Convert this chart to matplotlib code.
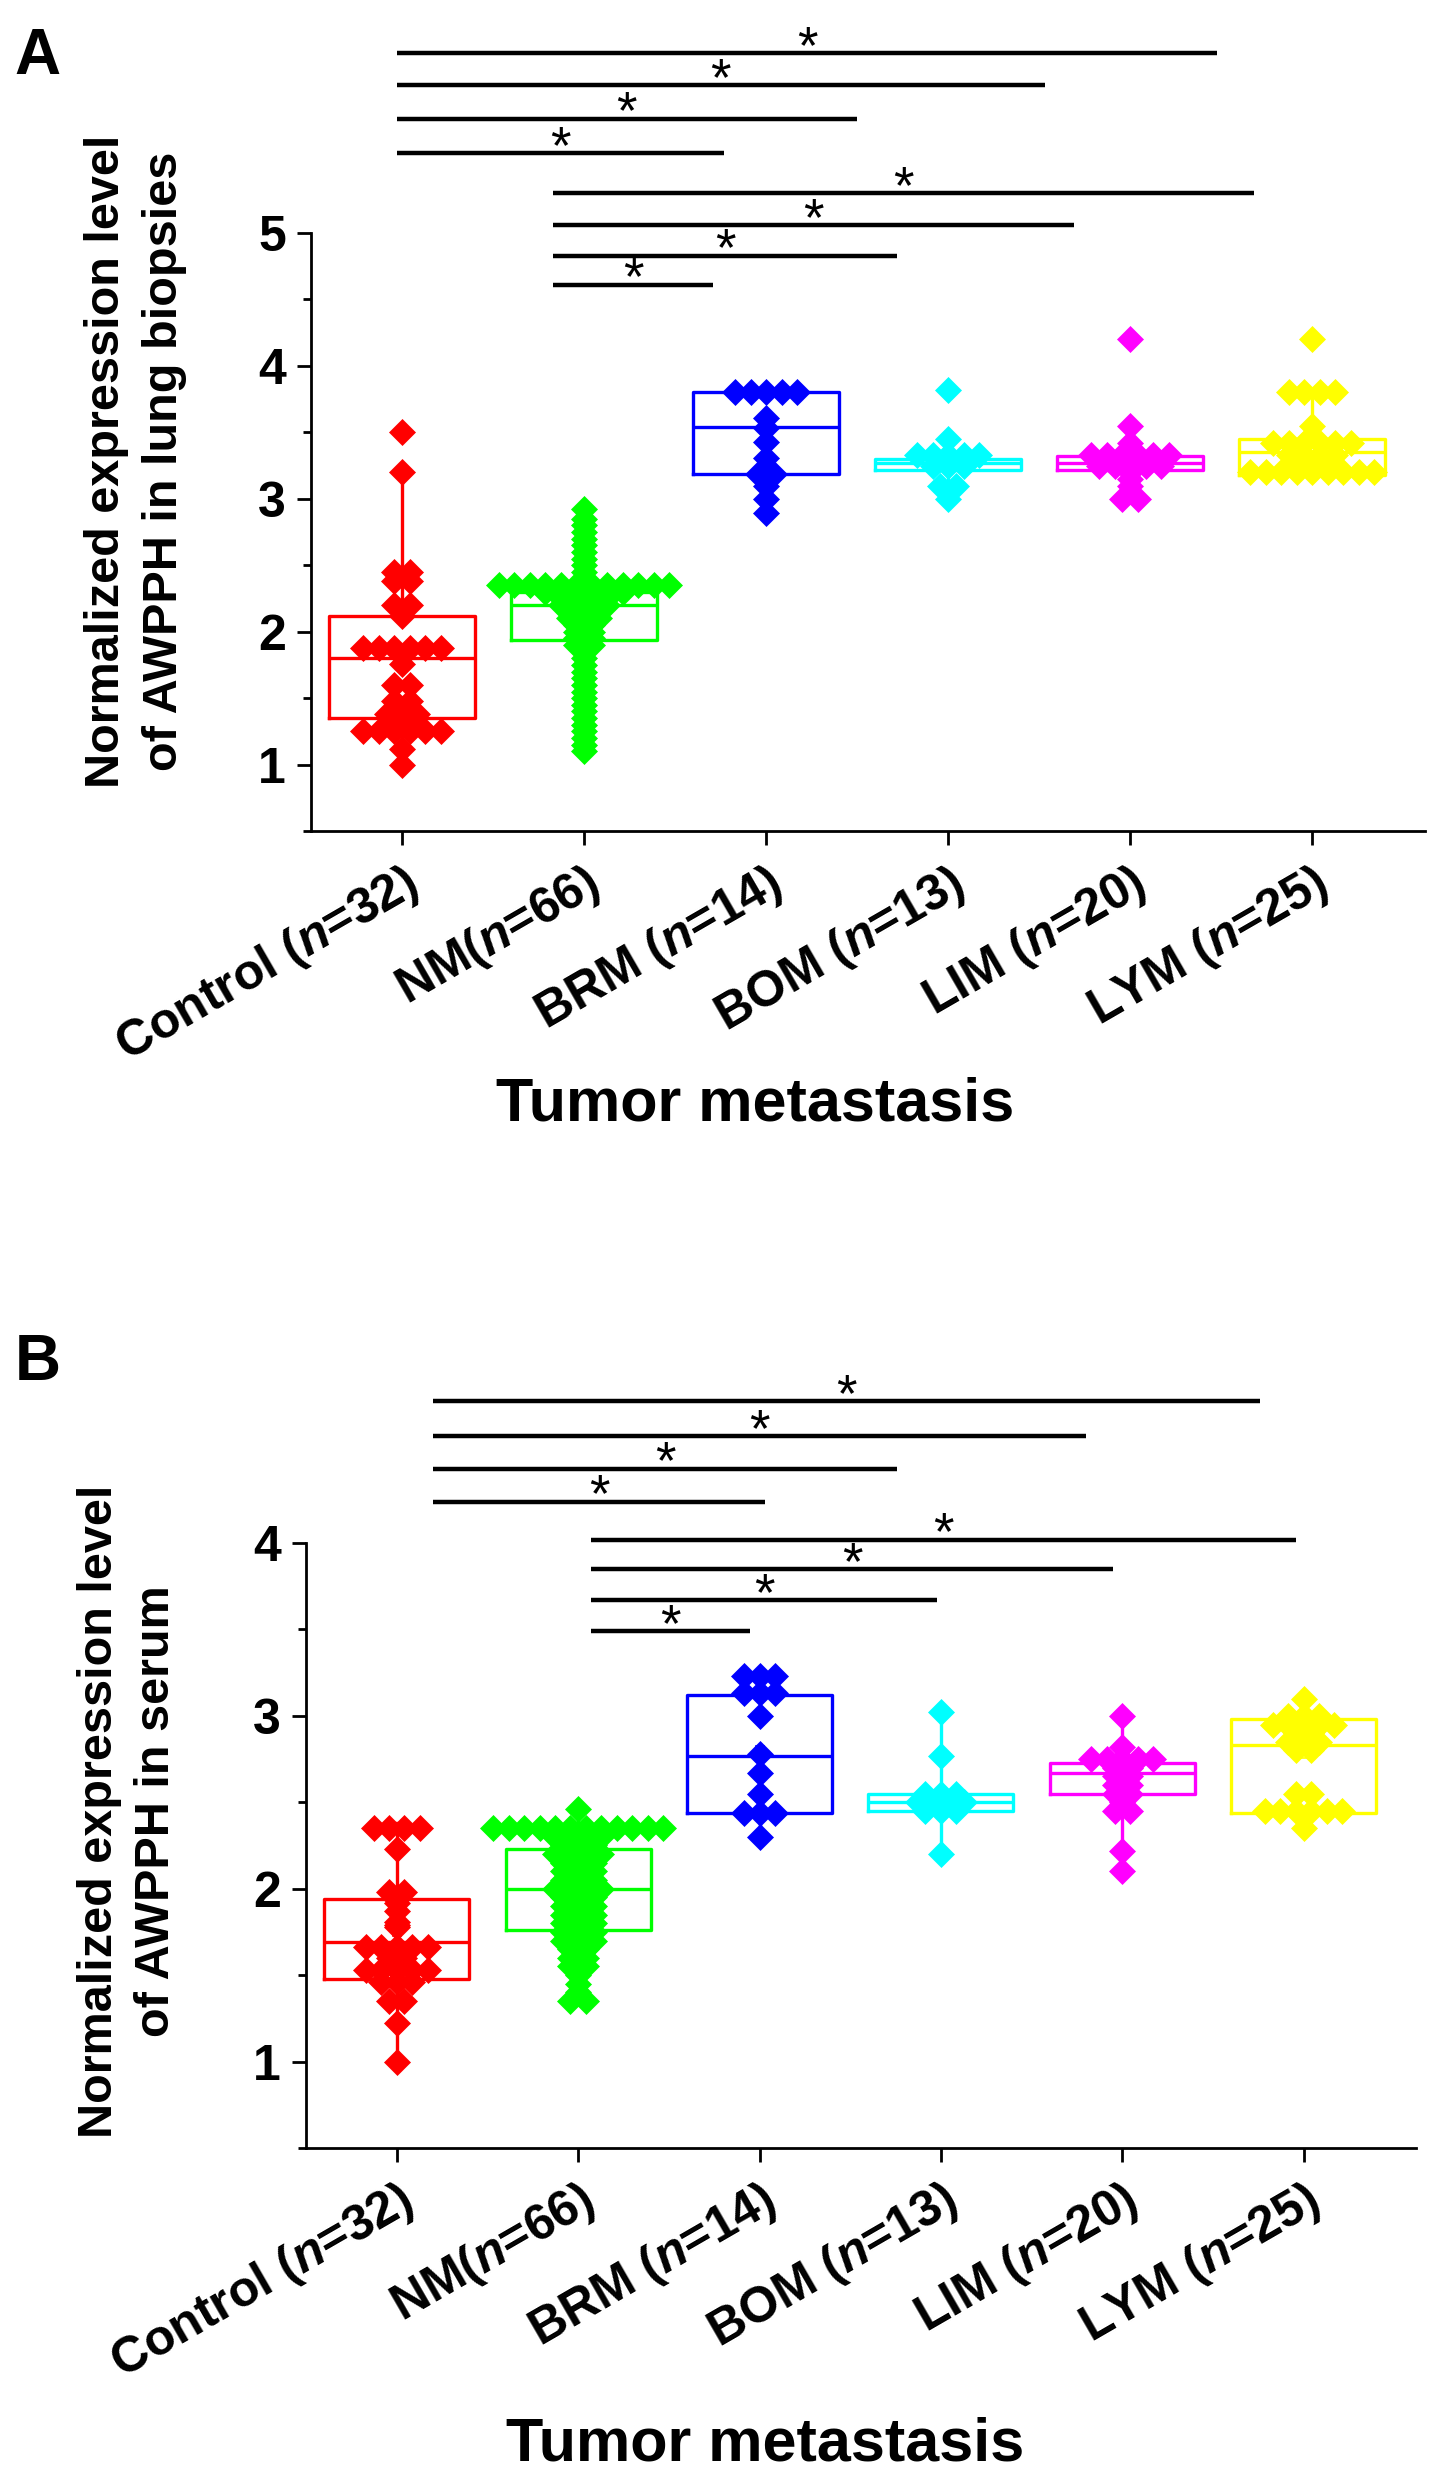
import numpy as np
import matplotlib
matplotlib.use('Agg')
import matplotlib.pyplot as plt
from matplotlib.ticker import MultipleLocator

plt.rcParams['font.family'] = ['Liberation Sans', 'DejaVu Sans']
plt.rcParams['font.weight'] = 'bold'
plt.rcParams['mathtext.fontset'] = 'custom'
plt.rcParams['mathtext.it'] = 'Liberation Sans:italic:bold'
plt.rcParams['mathtext.rm'] = 'Liberation Sans:bold'

# grups i etiquetes
grups = ['Control', 'NM', 'BRM', 'BOM', 'LIM', 'LYM']
etiquetes = ['Control ($\\mathit{n}$=32)', 'NM($\\mathit{n}$=66)', 'BRM ($\\mathit{n}$=14)',
             'BOM ($\\mathit{n}$=13)', 'LIM ($\\mathit{n}$=20)', 'LYM ($\\mathit{n}$=25)']
colors = ['#ff0000', '#00ff00', '#0000ff', '#00ffff', '#ff00ff', '#ffff00']

# panell A: biòpsies de pulmó (valors llegits del gràfic)
control_a = [3.5, 3.2, 2.45, 2.45, 2.38, 2.38, 2.2, 2.2, 2.12] + [1.88] * 6 + [1.76, 1.6, 1.6, 1.48, 1.48] \
    + [1.38] * 3 + [1.3] + [1.25] * 6 + [1.12, 1.0]
nm_a = [2.92, 2.85, 2.8, 2.75, 2.7, 2.65, 2.6, 2.55, 2.5, 2.45] + [2.35] * 12 + [2.3] * 6 + [2.25] * 4 \
    + [2.2] * 4 + [2.15] * 3 + [2.1] * 3 + [2.05] * 2 + [2.0] * 2 + [1.95] * 2 + [1.9] * 2 \
    + [1.85, 1.8, 1.75, 1.7, 1.65, 1.6, 1.55, 1.5, 1.45, 1.4, 1.35, 1.3, 1.25, 1.2, 1.15, 1.1]
brm_a = [3.8] * 5 + [3.61, 3.53, 3.43, 3.31, 3.19, 3.19, 3.1, 3.0, 2.89]
bom_a = [3.82, 3.45] + [3.33] * 5 + [3.25] * 3 + [3.1, 3.1, 3.0]
lim_a = [4.2, 3.55, 3.42, 3.35] + [3.33] * 6 + [3.25] * 5 + [3.2, 3.15, 3.1, 3.0, 3.0]
lym_a = [4.2] + [3.8] * 4 + [3.55] + [3.42] * 6 + [3.33] * 4 + [3.2] * 9

q1_a = [1.35, 1.94, 3.19, 3.22, 3.22, 3.18]
mediana_a = [1.80, 2.20, 3.54, 3.27, 3.27, 3.35]
q3_a = [2.12, 2.30, 3.80, 3.30, 3.32, 3.45]
mitjana_a = [1.80, 2.12, 3.47, 3.30, 3.30, 3.38]
bigoti_baix_a = [1.0, 1.1, 2.89, 3.0, 3.0, 3.18]
bigoti_alt_a = [3.2, 2.92, 3.8, 3.45, 3.55, 3.8]

# panell B: sèrum
control_b = [2.35] * 4 + [2.23, 1.98, 1.98, 1.95, 1.92, 1.87, 1.81, 1.79, 1.78] + [1.66] * 5 + [1.6] * 2 \
    + [1.53] * 5 + [1.46] * 3 + [1.35] * 2 + [1.22, 1.0]
nm_b = [2.46] + [2.35] * 12 + [2.3] * 4 + [2.25] * 3 + [2.2] * 4 + [2.15] * 3 + [2.1] * 3 + [2.05] * 3 \
    + [2.0] * 4 + [1.95] * 3 + [1.9] * 3 + [1.85] * 3 + [1.8] * 3 + [1.75] * 3 + [1.7] * 3 \
    + [1.65] * 2 + [1.6] * 2 + [1.55] * 2 + [1.5, 1.45, 1.4] + [1.35] * 2
brm_b = [3.23] * 3 + [3.13] * 3 + [3.0, 2.78, 2.67, 2.55] + [2.44] * 3 + [2.3]
bom_b = [3.02, 2.77] + [2.55] * 3 + [2.5] * 4 + [2.45] * 3 + [2.2]
lim_b = [3.0, 2.82] + [2.75] * 5 + [2.7] * 2 + [2.65] * 2 + [2.6] * 2 + [2.55] * 2 + [2.5] + [2.45] * 2 + [2.22, 2.1]
lym_b = [3.1] + [3.0] * 3 + [2.95] * 5 + [2.9] * 2 + [2.85] * 3 + [2.8] * 2 + [2.55] * 2 + [2.45] * 6 + [2.35]

q1_b = [1.48, 1.76, 2.44, 2.45, 2.55, 2.44]
mediana_b = [1.69, 2.00, 2.77, 2.50, 2.67, 2.83]
q3_b = [1.94, 2.23, 3.12, 2.55, 2.73, 2.98]
mitjana_b = [1.75, 1.98, 2.80, 2.52, 2.65, 2.78]
bigoti_baix_b = [1.0, 1.33, 2.3, 2.2, 2.1, 2.35]
bigoti_alt_b = [2.38, 2.46, 3.23, 3.02, 3.0, 3.1]

# línies de significació: inici, final, alçada (unitats de dades)
sig_x0_a = [0.97, 0.97, 0.97, 0.97, 1.83, 1.83, 1.83, 1.83]
sig_x1_a = [5.48, 4.53, 3.50, 2.77, 5.68, 4.69, 3.72, 2.71]
sig_y_a = [6.35, 6.11, 5.86, 5.60, 5.30, 5.06, 4.83, 4.61]
sig_x0_b = [1.20, 1.20, 1.20, 1.20, 2.07, 2.07, 2.07, 2.07]
sig_x1_b = [5.76, 4.80, 3.76, 3.03, 5.96, 4.95, 3.98, 2.95]
sig_y_b = [4.82, 4.62, 4.43, 4.24, 4.02, 3.85, 3.67, 3.49]


def desplacaments(valors, pas=0.085):
    #els punts amb el mateix valor es reparteixen en fila
    valors = np.round(np.asarray(valors, float), 2)
    off = np.zeros(len(valors))
    for v in np.unique(valors):
        idx = np.where(valors == v)[0]
        off[idx] = (np.arange(len(idx)) - (len(idx) - 1) / 2) * pas
    return off


def dibuixa_panell(ax, dades, q1, med, q3, mitj, blo, bhi, sx0, sx1, sy, ymax):
    for i, (vals, c) in enumerate(zip(dades, colors)):
        pos = i + 1
        stats = [dict(q1=q1[i], med=med[i], q3=q3[i], mean=mitj[i], whislo=blo[i], whishi=bhi[i], fliers=[])]
        ax.bxp(stats, positions=[pos], widths=0.8, showfliers=False, showmeans=True, showcaps=False,
               boxprops=dict(color=c, lw=2.4), medianprops=dict(color=c, lw=2.4),
               whiskerprops=dict(color=c, lw=2.4),
               meanprops=dict(marker='s', mfc='none', mec=c, ms=6, mew=1.2, zorder=6))
        x = pos + desplacaments(vals)
        ax.plot(x, vals, 'D', ms=13, color=c, mec=c, mew=0.5, ls='none', zorder=4)

    for x0, x1, y in zip(sx0, sx1, sy):
        ax.plot([x0, x1], [y, y], color='black', lw=3.2, clip_on=False, solid_capstyle='butt')
        ax.annotate('*', xy=((x0 + x1) / 2, y), xytext=(0, -7), textcoords='offset points',
                    ha='center', va='baseline', fontsize=38, fontweight='normal', annotation_clip=False)

    ax.set_xlim(0.5, 6.62)
    ax.set_ylim(0.5, ymax)
    ax.spines[['top', 'right']].set_visible(False)
    ax.spines['left'].set_linewidth(2)
    ax.spines['bottom'].set_linewidth(2)
    ax.set_yticks(np.arange(1, ymax + 1))
    ax.yaxis.set_minor_locator(MultipleLocator(0.5))
    ax.tick_params(axis='both', which='major', direction='out', length=10, width=2)
    ax.tick_params(axis='y', which='major', labelsize=36, pad=8)
    ax.tick_params(axis='y', which='minor', direction='out', length=6, width=2)
    ax.set_xticks(range(1, 7))
    ax.set_xticklabels(etiquetes, rotation=30, ha='right', va='top', rotation_mode='anchor', fontsize=36)
    ax.tick_params(axis='x', pad=10)


fig = plt.figure(figsize=(14.41, 24.78), dpi=100)

ax_a = fig.add_axes([0.2158, 0.6646, 0.7731, 0.2414])
dibuixa_panell(ax_a, [control_a, nm_a, brm_a, bom_a, lim_a, lym_a], q1_a, mediana_a, q3_a, mitjana_a,
               bigoti_baix_a, bigoti_alt_a, sig_x0_a, sig_x1_a, sig_y_a, 5)

ax_b = fig.add_axes([0.2124, 0.1332, 0.7703, 0.2441])
dibuixa_panell(ax_b, [control_b, nm_b, brm_b, bom_b, lim_b, lym_b], q1_b, mediana_b, q3_b, mitjana_b,
               bigoti_baix_b, bigoti_alt_b, sig_x0_b, sig_x1_b, sig_y_b, 4)

#textos de la figura
fig.text(0.010, 0.989, 'A', fontsize=46, fontweight='bold', va='top', ha='left')
fig.text(0.010, 0.462, 'B', fontsize=46, fontweight='bold', va='top', ha='left')
fig.text(0.094, 0.814, 'Normalized expression level\nof AWPPH in lung biopsies', rotation=90,
         ha='center', va='center', fontsize=35, fontweight='bold', linespacing=1.35)
fig.text(0.089, 0.269, 'Normalized expression level\nof AWPPH in serum', rotation=90,
         ha='center', va='center', fontsize=35, fontweight='bold', linespacing=1.35)
fig.text(0.524, 0.554, 'Tumor metastasis', ha='center', va='center', fontsize=44, fontweight='bold')
fig.text(0.531, 0.0133, 'Tumor metastasis', ha='center', va='center', fontsize=44, fontweight='bold')

fig.savefig('out.png', dpi=100)
